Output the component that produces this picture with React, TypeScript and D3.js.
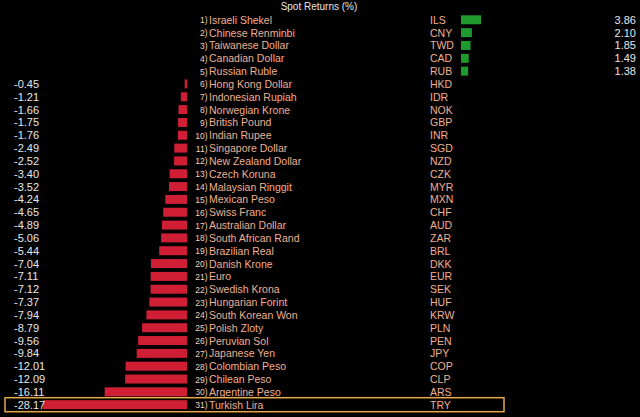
import React from "react";
import * as d3 from "d3";

const names = [
  "Israeli Shekel", "Chinese Renminbi", "Taiwanese Dollar", "Canadian Dollar", "Russian Ruble",
  "Hong Kong Dollar", "Indonesian Rupiah", "Norwegian Krone", "British Pound", "Indian Rupee",
  "Singapore Dollar", "New Zealand Dollar", "Czech Koruna", "Malaysian Ringgit", "Mexican Peso",
  "Swiss Franc", "Australian Dollar", "South African Rand", "Brazilian Real", "Danish Krone",
  "Euro", "Swedish Krona", "Hungarian Forint", "South Korean Won", "Polish Zloty",
  "Peruvian Sol", "Japanese Yen", "Colombian Peso", "Chilean Peso", "Argentine Peso", "Turkish Lira",
];
const codes = [
  "ILS", "CNY", "TWD", "CAD", "RUB", "HKD", "IDR", "NOK", "GBP", "INR",
  "SGD", "NZD", "CZK", "MYR", "MXN", "CHF", "AUD", "ZAR", "BRL", "DKK",
  "EUR", "SEK", "HUF", "KRW", "PLN", "PEN", "JPY", "COP", "CLP", "ARS", "TRY",
];
const values = [
  3.86, 2.10, 1.85, 1.49, 1.38, -0.45, -1.21, -1.66, -1.75, -1.76,
  -2.49, -2.52, -3.40, -3.52, -4.24, -4.65, -4.89, -5.06, -5.44, -7.04,
  -7.11, -7.12, -7.37, -7.94, -8.79, -9.56, -9.84, -12.01, -12.09, -16.11, -28.17,
];
const title = "Spot Returns (%)";
const highlighted = "TRY";

const fmt = (v: number) => v.toFixed(2);

export default function App() {
  const W = 640, H = 417;
  const font = "'Liberation Sans', Arial, sans-serif";
  const y = d3.scaleLinear().domain([0, values.length - 1]).range([19.8, 404.7]);
  const xNeg = d3.scaleLinear().domain([-28.17, 0]).range([43, 187]);
  const xPos = d3.scaleLinear().domain([0, 3.86]).range([461, 481]);
  const barH = 9;
  const hi = codes.indexOf(highlighted);
  return (
    <svg width={W} height={H} style={{ position: "absolute", left: 0, top: 0, background: "#000" }}>
      <rect x={0} y={0} width={W} height={H} fill="#000" />
      <text x={319} y={10} textAnchor="middle" fill="#e6e6e6" fontFamily={font} fontSize={10}>{title}</text>
      {values.map((v, i) => {
        const cy = y(i);
        return (
          <g key={codes[i]}>
            {v < 0 ? (
              <>
                <rect x={xNeg(v)} y={cy - barH / 2} width={xNeg(0) - xNeg(v)} height={barH} fill="#d01f35" />
                <text x={14} y={cy + 4} fill="#e8e8e8" fontFamily={font} fontSize={11}>{fmt(v)}</text>
              </>
            ) : (
              <>
                <rect x={xPos(0)} y={cy - barH / 2} width={xPos(v) - xPos(0)} height={barH} fill="#1f9a2e" />
                <text x={636} y={cy + 4} textAnchor="end" fill="#e8e8e8" fontFamily={font} fontSize={11}>{fmt(v)}</text>
              </>
            )}
            <text x={207.5} y={cy + 3.5} textAnchor="end" fill="#f2d2b8" fontFamily={font} fontSize={8.5}>{`${i + 1})`}</text>
            <text x={209} y={cy + 4} fill="#f0b090" fontFamily={font} fontSize={10.5}>{names[i]}</text>
            <text x={430} y={cy + 4} fill="#f0b090" fontFamily={font} fontSize={10.5}>{codes[i]}</text>
          </g>
        );
      })}
      {hi >= 0 && (
        <rect x={5} y={y(hi) - 7} width={499} height={14} fill="none" stroke="#e8a848" strokeWidth={1.5} />
      )}
    </svg>
  );
}
